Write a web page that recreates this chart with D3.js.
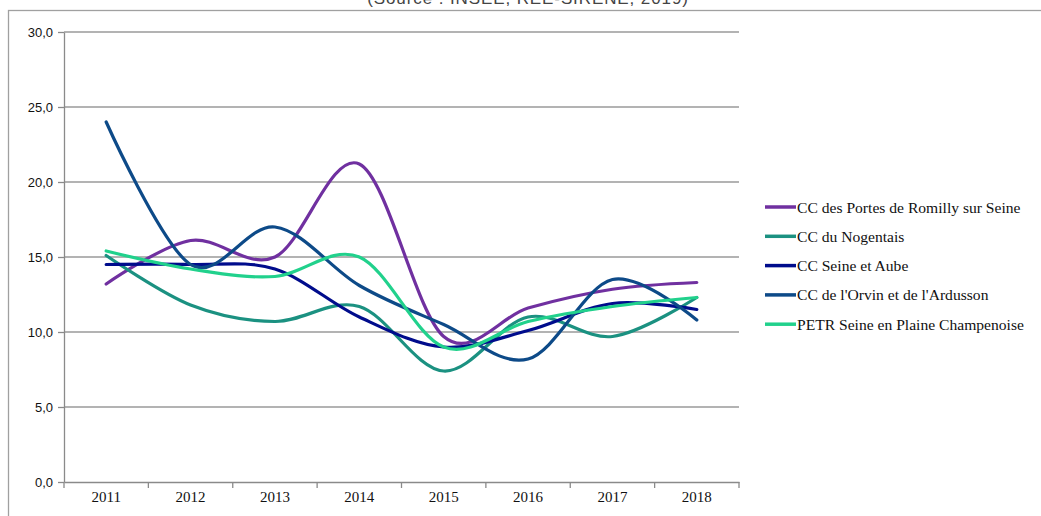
<!DOCTYPE html>
<html>
<head>
<meta charset="utf-8">
<script src="https://cdn.jsdelivr.net/npm/d3@7"></script>
<style>
  body { margin: 0; background: #fff; }
  svg { display: block; }
</style>
</head>
<body>
<svg></svg>
<script>
const years = ['2011', '2012', '2013', '2014', '2015', '2016', '2017', '2018']
const seriesNames = [
  'CC des Portes de Romilly sur Seine',
  'CC du Nogentais',
  'CC Seine et Aube',
  "CC de l'Orvin et de l'Ardusson",
  'PETR Seine en Plaine Champenoise'
]
const romilly = [13.2, 16.1, 15.0, 21.2, 9.7, 11.6, 12.85, 13.3]
const nogentais = [15.1, 11.8, 10.7, 11.7, 7.4, 11.0, 9.7, 12.3]
const seineAube = [14.5, 14.5, 14.2, 11.0, 9.0, 10.1, 11.9, 11.5]
const orvin = [24.0, 14.5, 17.0, 13.1, 10.5, 8.2, 13.5, 10.8]
const petr = [15.4, 14.2, 13.7, 15.0, 9.0, 10.7, 11.7, 12.3]
const colors = ['#7030a0', '#1b9181', '#000c8c', '#0d4a88', '#21d18c']
const yTicks = [0, 5, 10, 15, 20, 25, 30]
const title = '(Source : INSEE, REE-SIRENE, 2019)'

const seriesValues = [romilly, nogentais, seineAube, orvin, petr]

let width = 1041
let height = 516
let plotLeft = 64
let plotRight = 739
let plotTop = 32
let plotBottom = 482

let svg = d3.select('svg')
   .attr('width', width)
   .attr('height', height)

// outer frame
svg.append('rect')
   .attr('x', 8.5)
   .attr('y', 10.5)
   .attr('width', 1100)
   .attr('height', 600)
   .attr('fill', 'none')
   .attr('stroke', '#a0a0a0')
   .attr('stroke-width', 1.3)

// title sits above the frame, mostly outside the picture as in the source
svg.append('text')
   .attr('x', 528)
   .attr('y', 4)
   .attr('text-anchor', 'middle')
   .attr('font-family', 'Liberation Sans, Arial, sans-serif')
   .attr('font-size', 17)
   .attr('letter-spacing', 0.9)
   .attr('fill', '#444')
   .text(title)

let xScale = d3.scaleBand()
               .domain(years)
               .range([plotLeft, plotRight])

let yScale = d3.scaleLinear()
               .domain([0, 30])
               .range([plotBottom, plotTop])

// grid lines
svg.append('g')
   .selectAll('line')
   .data(yTicks.filter(d => d > 0))
   .enter()
   .append('line')
   .attr('x1', plotLeft)
   .attr('x2', plotRight)
   .attr('y1', d => yScale(d))
   .attr('y2', d => yScale(d))
   .attr('stroke', '#9a9a9a')
   .attr('stroke-width', 1.4)

let yAxis = d3.axisLeft(yScale)
              .tickValues(yTicks)
              .tickSize(6)
              .tickSizeOuter(0)
              .tickFormat(d => d3.format('.1f')(d).replace('.', ','))

svg.append('g')
   .attr('transform', 'translate(' + plotLeft + ', 0)')
   .call(yAxis)
   .call(g => g.selectAll('line, path').attr('stroke', '#8a8a8a').attr('stroke-width', 1.3))
   .call(g => g.selectAll('text')
               .attr('font-family', 'Liberation Sans, Arial, sans-serif')
               .attr('font-size', 13)
               .attr('fill', '#111')
               .attr('dx', -2))

let xAxis = d3.axisBottom(xScale)
              .tickSize(0)
              .tickSizeOuter(0)

let gx = svg.append('g')
   .attr('transform', 'translate(0, ' + plotBottom + ')')
   .call(xAxis)
gx.select('path').attr('stroke', '#8a8a8a').attr('stroke-width', 1.3)
gx.selectAll('text')
  .attr('font-family', 'Liberation Serif, Times New Roman, serif')
  .attr('font-size', 15)
  .attr('fill', '#111')
  .attr('dy', '1.1em')

// boundary ticks on x axis
gx.selectAll('.bound')
  .data(years.concat(['end']))
  .enter()
  .append('line')
  .attr('class', 'bound')
  .attr('x1', (d, i) => plotLeft + i * xScale.step())
  .attr('x2', (d, i) => plotLeft + i * xScale.step())
  .attr('y1', 0)
  .attr('y2', 6)
  .attr('stroke', '#8a8a8a')
  .attr('stroke-width', 1.3)

let line = d3.line()
             .x((d, i) => xScale(years[i]) + xScale.bandwidth() / 2)
             .y(d => yScale(d))
             .curve(d3.curveCatmullRom.alpha(0))

svg.append('g')
   .selectAll('path')
   .data(seriesValues)
   .enter()
   .append('path')
   .attr('d', d => line(d))
   .attr('fill', 'none')
   .attr('stroke', (d, i) => colors[i])
   .attr('stroke-width', 3.2)
   .attr('stroke-linecap', 'round')

// legend
let legend = svg.append('g')
   .selectAll('g')
   .data(seriesNames)
   .enter()
   .append('g')
   .attr('transform', (d, i) => 'translate(765, ' + (207 + i * 29.3) + ')')

legend.append('line')
      .attr('x1', 0)
      .attr('x2', 31)
      .attr('stroke', (d, i) => colors[i])
      .attr('stroke-width', 3.5)

legend.append('text')
      .attr('x', 32)
      .attr('y', 5.5)
      .attr('font-family', 'Liberation Serif, Times New Roman, serif')
      .attr('font-size', 15.6)
      .attr('fill', '#111')
      .text(d => d)
</script>
</body>
</html>
